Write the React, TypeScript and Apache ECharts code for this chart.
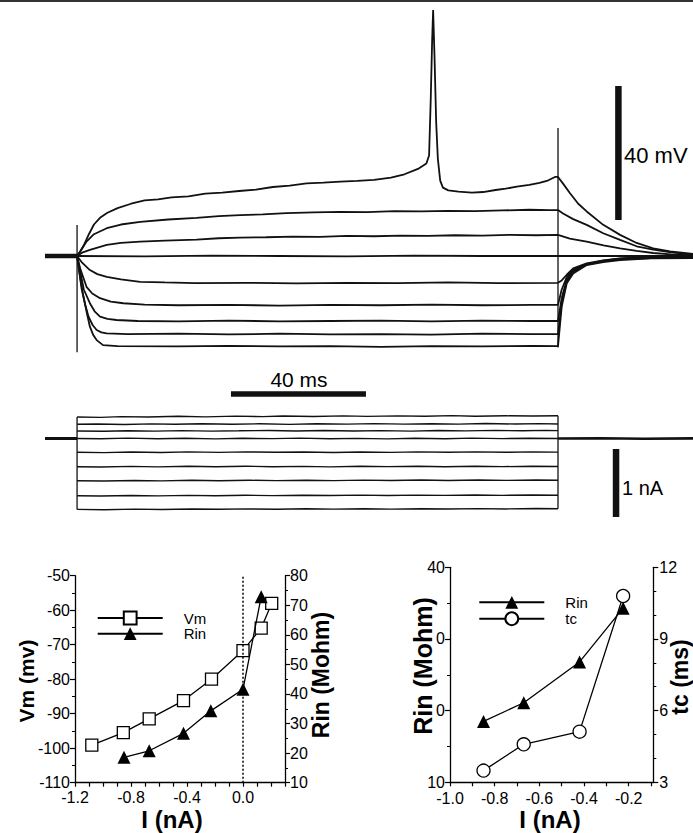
import React, { useEffect, useRef } from 'react';
import * as echarts from 'echarts';

const FONT = '"Liberation Sans", Arial, Helvetica, sans-serif';

// ---------- Top panel: membrane potential (t in ms from step onset, V in mV) ----------
const vTrace1 = [[0,-72],[1,-70.5],[2,-68.8],[3.5,-65.5],[5,-62.6],[7,-60.4],[9,-59.1],[12,-57.7],[16,-56.4],[20,-55.4],[24,-55.1],[28,-54.5],[33,-54.2],[38,-53.4],[43,-53.1],[48,-52.6],[53,-52.2],[58,-51.4],[63,-51.0],[68,-50.3],[73,-50.1],[78,-49.8],[83,-49.6],[88,-49.3],[93,-48.6],[97,-47.6],[101,-46.0],[103.5,-44.4],[104.3,-42],[104.8,-25],[105.2,-8],[105.5,1.4],[105.9,-12],[106.4,-32],[106.9,-43],[107.6,-49.5],[108.4,-51.6],[110,-52.4],[113,-52.8],[117,-53.1],[120.3,-52.9],[124,-52.3],[127,-51.9],[130.3,-51.3],[134,-50.8],[137,-50.2],[139.2,-49.6],[141.6,-48.4],[142.5,-48.4],[144,-50.4],[146,-53.2],[148.5,-56.4],[151,-58.7],[155.9,-62.7],[160.9,-65.7],[165.8,-68.1],[170.7,-69.7],[175.7,-70.6],[182.5,-71.4]];
const vTrace2 = [[0,-72],[1,-70.6],[2.8,-67.7],[5,-65.5],[8.8,-63.7],[13,-62.6],[18.7,-61.8],[27,-61.1],[35.4,-60.6],[42,-60.1],[48.3,-59.8],[55,-59.6],[62,-59.2],[70,-59.0],[78,-58.8],[86,-58.9],[94,-58.6],[102,-58.7],[110,-58.5],[118,-58.6],[126,-58.4],[134,-58.2],[140,-58.3],[142.5,-58.3],[144,-59.3],[147,-61],[151,-62.7],[155.9,-65.2],[160.9,-67.2],[165.8,-69.1],[170.7,-70.1],[176,-70.9],[182.5,-71.6]];
const vTrace3 = [[0,-72],[1.5,-71],[3.8,-70.2],[8.8,-68.7],[13,-68.1],[18.7,-67.7],[26,-67.4],[35.4,-67.1],[42,-66.7],[48.3,-66.5],[56,-66.4],[64,-66.2],[72,-66.3],[80,-66.0],[88,-66.1],[96,-65.9],[104,-66.0],[112,-65.8],[120,-65.9],[128,-65.7],[136,-65.8],[142.5,-65.7],[146,-66.8],[151,-67.7],[156,-68.8],[160.9,-69.7],[165.8,-70.5],[170.7,-71.1],[176,-71.5],[182.5,-71.8]];
const vTrace4 = [[0,-72],[20,-72.1],[40,-71.9],[60,-72],[80,-72.1],[100,-71.9],[120,-72],[142.5,-72],[160,-72],[182.5,-72]];
const vTrace5 = [[0,-72],[1.5,-74],[3.8,-76.2],[6,-77.4],[8.8,-78.2],[13,-79],[18.7,-79.7],[26,-79.9],[35,-80.1],[50,-80],[65,-80.2],[80,-80],[95,-80.1],[110,-79.9],[125,-80.1],[142.5,-80],[143.6,-79.3],[145.1,-77.6],[147,-75.7],[151,-74.2],[155.9,-73.3],[160.9,-72.7],[170,-72.3],[182.5,-72.2]];
const vTrace6 = [[0,-72],[1,-76],[2.8,-81.2],[4.5,-83.2],[6.8,-84.6],[10,-85.6],[13.7,-86.1],[20,-86.5],[30,-86.7],[45,-86.6],[60,-86.8],[75,-86.6],[90,-86.7],[105,-86.5],[120,-86.7],[135,-86.6],[142.5,-86.6],[143.6,-82],[145.1,-78.3],[147,-76.1],[151,-74.4],[155.9,-73.4],[160.9,-72.8],[170,-72.4],[182.5,-72.3]];
const vTrace7 = [[0,-72],[1,-77],[2,-82],[3.8,-86.1],[5.2,-88.5],[6.8,-90.1],[9,-90.8],[11.7,-91.1],[18,-91.4],[30,-91.5],[45,-91.3],[60,-91.5],[75,-91.4],[90,-91.3],[105,-91.5],[120,-91.3],[135,-91.4],[142.5,-91.4],[143.6,-84.5],[145.1,-79],[147,-76.5],[151,-74.5],[155.9,-73.5],[160.9,-72.9],[170,-72.5],[182.5,-72.4]];
const vTrace8 = [[0,-72],[1.4,-82.1],[2.4,-86.5],[3.4,-90.1],[4.6,-92.6],[5.8,-94.1],[7.2,-94.8],[8.8,-95.1],[15,-95.3],[30,-95.2],[45,-95.4],[60,-95.2],[75,-95.4],[90,-95.3],[105,-95.5],[120,-95.2],[135,-95.3],[142.5,-95.3],[143.6,-86],[145.1,-79.6],[147,-76.8],[151,-74.6],[155.9,-73.6],[160.9,-73],[170,-72.6],[182.5,-72.5]];
const vTrace9 = [[0,-72],[1,-79],[1.9,-84.1],[2.9,-89],[3.8,-93.1],[4.8,-95.6],[5.8,-97.1],[7.7,-98.6],[12,-98.9],[30,-99],[45,-98.8],[60,-99],[75,-98.9],[90,-99.1],[105,-98.9],[120,-99],[135,-98.8],[142.5,-98.9],[143.6,-87.1],[145.1,-80.1],[147,-77.2],[151,-74.7],[155.9,-73.8],[160.9,-73.2],[170,-72.7],[182.5,-72.6]];
const voltageTraces = [vTrace1, vTrace2, vTrace3, vTrace4, vTrace5, vTrace6, vTrace7, vTrace8, vTrace9];
const vPreBaseline = [[-9.5,-72],[0,-72]];
const vOnArtifact = [[0,-62.75],[0,-100.7]];
const vOffArtifact = [[142.5,-33.8],[142.5,-99.3]];
const mVScaleBar = [[160.4,-61.25],[160.4,-21.25]];

// ---------- Middle panel: injected current (nA) ----------
const iTrace1 = [[0,0.316],[7,0.311],[13,0.322],[21,0.316],[30,0.327],[38,0.318],[47,0.329],[55,0.322],[61,0.331],[70,0.324],[79,0.333],[86,0.325],[95,0.332],[103,0.327],[111,0.336],[118,0.328],[127,0.334],[135,0.33],[142.5,0.335]];
const iTrace2 = [[0,0.21],[6,0.214],[14,0.206],[22,0.215],[29,0.209],[37,0.217],[46,0.21],[54,0.216],[63,0.208],[71,0.218],[80,0.212],[88,0.219],[97,0.211],[105,0.217],[113,0.212],[121,0.22],[130,0.213],[137,0.219],[142.5,0.214]];
const iTrace3 = [[0,0.11],[8,0.106],[15,0.114],[23,0.108],[31,0.116],[40,0.109],[48,0.113],[57,0.118],[65,0.11],[73,0.117],[82,0.111],[90,0.116],[99,0.109],[107,0.118],[115,0.112],[124,0.119],[132,0.113],[139,0.12],[142.5,0.116]];
const iTrace4 = [[0,0.0],[7,-0.004],[15,0.005],[24,-0.003],[32,0.004],[41,-0.006],[49,0.003],[58,-0.002],[66,0.005],[75,-0.004],[83,0.002],[92,-0.005],[100,0.004],[109,-0.003],[117,0.005],[126,-0.002],[134,0.004],[142.5,0.0]];
const iTrace5 = [[0,-0.203],[8,-0.207],[16,-0.198],[25,-0.205],[33,-0.197],[42,-0.204],[50,-0.196],[59,-0.203],[67,-0.199],[76,-0.206],[84,-0.198],[93,-0.204],[101,-0.197],[110,-0.203],[118,-0.196],[127,-0.202],[135,-0.197],[142.5,-0.2]];
const iTrace6 = [[0,-0.415],[7,-0.419],[16,-0.41],[24,-0.417],[33,-0.409],[41,-0.416],[50,-0.408],[58,-0.415],[67,-0.41],[75,-0.417],[84,-0.409],[92,-0.414],[101,-0.408],[109,-0.415],[118,-0.409],[126,-0.414],[135,-0.408],[142.5,-0.412]];
const iTrace7 = [[0,-0.622],[8,-0.626],[17,-0.617],[25,-0.623],[34,-0.615],[42,-0.621],[51,-0.614],[59,-0.62],[68,-0.613],[76,-0.619],[85,-0.612],[93,-0.618],[102,-0.611],[110,-0.617],[119,-0.611],[127,-0.616],[136,-0.61],[142.5,-0.614]];
const iTrace8 = [[0,-0.842],[7,-0.846],[16,-0.838],[24,-0.844],[33,-0.836],[41,-0.842],[50,-0.835],[58,-0.84],[67,-0.834],[75,-0.839],[84,-0.833],[92,-0.838],[101,-0.832],[109,-0.837],[118,-0.831],[126,-0.836],[135,-0.83],[142.5,-0.834]];
const iTrace9 = [[0,-1.043],[8,-1.047],[17,-1.038],[25,-1.044],[34,-1.036],[42,-1.041],[51,-1.035],[59,-1.04],[68,-1.034],[76,-1.039],[85,-1.033],[93,-1.038],[102,-1.032],[110,-1.037],[119,-1.031],[127,-1.036],[136,-1.03],[142.5,-1.034]];
const currentTraces = [iTrace1, iTrace2, iTrace3, iTrace4, iTrace5, iTrace6, iTrace7, iTrace8, iTrace9];
const iPreBaseline = [[-9.5,0],[0,0]];
const iPostBaseline = [[142.5,0],[155,0.004],[168,-0.003],[182.5,0.002]];
const iOnEdge = [[0,-1.043],[0,0.316]];
const iOffEdge = [[142.5,-1.034],[142.5,0.335]];
const msScaleBar = [[45.6,0.654],[85.6,0.654]];
const nAScaleBar = [[159.7,-0.154],[159.7,-1.154]];

// ---------- Bottom left: I-V and input resistance ----------
const ivVmCurrent = [-1.08, -0.855, -0.67, -0.425, -0.225, 0, 0.13, 0.205];
const ivVm = [-99.1, -95.5, -91.5, -86.2, -80.0, -71.7, -65.2, -58.0];
const ivRinCurrent = [-0.85, -0.67, -0.425, -0.23, 0, 0.13];
const ivRin = [18.6, 20.8, 26.7, 34.3, 41.6, 72.9];
const ivXTickValues = [-1.2, -1.1, -1.0, -0.9, -0.8, -0.7, -0.6, -0.5, -0.4, -0.3, -0.2, -0.1, 0, 0.1, 0.2, 0.3];
const ivXLabelValues = [-1.2, -0.8, -0.4, 0];

// ---------- Bottom right: Rin and time constant ----------
const rcCurrent = [-0.85, -0.67, -0.42, -0.225];
const rcRin = [18.5, 21.1, 26.8, 34.3];
const rcTc = [3.49, 4.59, 5.12, 10.8];
const rcXTickValues = [-1.0, -0.9, -0.8, -0.7, -0.6, -0.5, -0.4, -0.3, -0.2, -0.1];
const rcXLabelValues = [-1.0, -0.8, -0.6, -0.4, -0.2];
const rcRinTickText = ['10', '0', '0', '40'];

const zip = (xs: number[], ys: number[]) => xs.map((x, i) => [x, ys[i]]);

const INK = '#111';

const traceSeries = (data: number[][], xi: number, yi: number, width = 1.5) => ({
  type: 'line',
  xAxisIndex: xi,
  yAxisIndex: yi,
  data,
  symbol: 'none',
  showSymbol: false,
  silent: true,
  lineStyle: { color: INK, width },
  z: 2,
});

const tickLabelStyle = { color: '#000', fontSize: 16, fontFamily: FONT };
const axisLineStyle = { show: true, onZero: false, lineStyle: { color: '#000', width: 1.3 } };

function buildOption() {
  const series: any[] = [];
  voltageTraces.forEach((d) => series.push(traceSeries(d, 0, 0, 1.8)));
  series.push(traceSeries(vPreBaseline, 0, 0, 4.5));
  series.push(traceSeries(vOnArtifact, 0, 0, 1.3));
  series.push(traceSeries(vOffArtifact, 0, 0, 1.3));
  series.push({ ...traceSeries(mVScaleBar, 0, 0, 6.5), lineStyle: { color: '#111', width: 6.5, cap: 'butt' } });

  currentTraces.forEach((d) => series.push(traceSeries(d, 1, 1, 1.4)));
  series.push(traceSeries(iPreBaseline, 1, 1, 3));
  series.push(traceSeries(iPostBaseline, 1, 1, 2.6));
  series.push(traceSeries(iOnEdge, 1, 1, 1.3));
  series.push(traceSeries(iOffEdge, 1, 1, 1.3));
  series.push({ ...traceSeries(msScaleBar, 1, 1, 5.5), lineStyle: { color: '#111', width: 5.5, cap: 'butt' } });
  series.push({ ...traceSeries(nAScaleBar, 1, 1, 6.5), lineStyle: { color: '#111', width: 6.5, cap: 'butt' } });

  series.push({
    name: 'Vm', type: 'line', xAxisIndex: 2, yAxisIndex: 2,
    data: zip(ivVmCurrent, ivVm),
    symbol: 'rect', symbolSize: 12,
    lineStyle: { color: '#000', width: 1.3 },
    itemStyle: { color: '#fff', borderColor: '#000', borderWidth: 1.3 },
    z: 3,
    markLine: {
      silent: true, symbol: 'none', label: { show: false },
      lineStyle: { color: '#000', width: 1.5, type: [2, 2] },
      data: [{ xAxis: 0 }],
    },
  });
  series.push({
    name: 'Rin', type: 'line', xAxisIndex: 2, yAxisIndex: 3,
    data: zip(ivRinCurrent, ivRin),
    symbol: 'triangle', symbolSize: 13,
    lineStyle: { color: '#000', width: 1.3 },
    itemStyle: { color: '#000', borderColor: '#000', borderWidth: 0 },
    z: 4,
  });
  series.push({
    name: 'Rin', type: 'line', xAxisIndex: 3, yAxisIndex: 4,
    data: zip(rcCurrent, rcRin),
    symbol: 'triangle', symbolSize: 13,
    lineStyle: { color: '#000', width: 1.3 },
    itemStyle: { color: '#000', borderColor: '#000', borderWidth: 0 },
    z: 4,
  });
  series.push({
    name: 'tc', type: 'line', xAxisIndex: 3, yAxisIndex: 5,
    data: zip(rcCurrent, rcTc),
    symbol: 'circle', symbolSize: 13,
    lineStyle: { color: '#000', width: 1.3 },
    itemStyle: { color: '#fff', borderColor: '#000', borderWidth: 1.3 },
    z: 3,
  });

  const rotTitle = (text: string, x: number, y: number, size: number) => ({
    type: 'text', x, y, rotation: Math.PI / 2, silent: true,
    style: { text, font: `bold ${size}px ${FONT}`, fill: '#000', align: 'center', verticalAlign: 'middle' },
  });
  const plainText = (text: string, x: number, y: number, size: number, align = 'left', bold = false) => ({
    type: 'text', x, y, silent: true,
    style: { text, font: `${bold ? 'bold ' : ''}${size}px ${FONT}`, fill: '#000', align, verticalAlign: 'middle' },
  });

  const legendBase = {
    orient: 'vertical',
    padding: 0,
    itemWidth: 65,
    itemHeight: 16,
    selectedMode: false,
    textStyle: { color: '#000', fontSize: 15, fontFamily: FONT, padding: [0, 0, 0, 16] },
  };

  return {
    animation: false,
    backgroundColor: '#fff',
    grid: [
      { left: 45, top: 1.4, width: 648, height: 355.1, outerBoundsMode: 'none', containLabel: false },
      { left: 45, top: 370.5, width: 648, height: 153, outerBoundsMode: 'none', containLabel: false },
      { left: 75, top: 575.7, width: 210, height: 207, outerBoundsMode: 'none', containLabel: false },
      { left: 450, top: 567.3, width: 203.3, height: 215, outerBoundsMode: 'none', containLabel: false },
    ],
    xAxis: [
      { type: 'value', gridIndex: 0, min: -9.5, max: 182.5, show: false },
      { type: 'value', gridIndex: 1, min: -9.5, max: 182.5, show: false },
      {
        type: 'value', gridIndex: 2, min: -1.2, max: 0.3, interval: 0.4,
        axisLine: axisLineStyle,
        axisTick: { show: true, length: 4, customValues: ivXTickValues, lineStyle: { color: '#000', width: 1.2 } },
        axisLabel: { ...tickLabelStyle, margin: 7, customValues: ivXLabelValues, formatter: (v: number) => v.toFixed(1) },
        splitLine: { show: false },
      },
      {
        type: 'value', gridIndex: 3, min: -1.0, max: -0.09, interval: 0.2,
        axisLine: axisLineStyle,
        axisTick: { show: true, length: 4, customValues: rcXTickValues, lineStyle: { color: '#000', width: 1.2 } },
        axisLabel: { ...tickLabelStyle, margin: 8, customValues: rcXLabelValues, formatter: (v: number) => v.toFixed(1) },
        splitLine: { show: false },
      },
    ],
    yAxis: [
      { type: 'value', gridIndex: 0, min: -102, max: 4, show: false },
      { type: 'value', gridIndex: 1, min: -1.25, max: 1.0, show: false },
      {
        type: 'value', gridIndex: 2, position: 'left', min: -110, max: -50, interval: 10,
        axisLine: axisLineStyle,
        axisTick: { show: true, length: 5, lineStyle: { color: '#000', width: 1.2 } },
        minorTick: { show: true, splitNumber: 2, length: 3, lineStyle: { color: '#000', width: 1 } },
        axisLabel: { ...tickLabelStyle, margin: 5 },
        splitLine: { show: false }, minorSplitLine: { show: false },
      },
      {
        type: 'value', gridIndex: 2, position: 'right', min: 10, max: 80, interval: 10,
        axisLine: axisLineStyle,
        axisTick: { show: true, length: 5, lineStyle: { color: '#000', width: 1.2 } },
        minorTick: { show: true, splitNumber: 2, length: 3, lineStyle: { color: '#000', width: 1 } },
        axisLabel: { ...tickLabelStyle, margin: 5 },
        splitLine: { show: false }, minorSplitLine: { show: false },
      },
      {
        type: 'value', gridIndex: 3, position: 'left', min: 10, max: 40, interval: 10,
        axisLine: axisLineStyle,
        axisTick: { show: true, length: 5, lineStyle: { color: '#000', width: 1.2 } },
        minorTick: { show: true, splitNumber: 2, length: 3, lineStyle: { color: '#000', width: 1 } },
        axisLabel: { ...tickLabelStyle, margin: 5, formatter: (v: number) => rcRinTickText[Math.round((v - 10) / 10)] ?? String(v) },
        splitLine: { show: false }, minorSplitLine: { show: false },
      },
      {
        type: 'value', gridIndex: 3, position: 'right', min: 3, max: 12, interval: 3,
        axisLine: axisLineStyle,
        axisTick: { show: true, length: 5, lineStyle: { color: '#000', width: 1.2 } },
        minorTick: { show: true, splitNumber: 3, length: 3, lineStyle: { color: '#000', width: 1 } },
        axisLabel: { ...tickLabelStyle, margin: 6 },
        splitLine: { show: false }, minorSplitLine: { show: false },
      },
    ],
    legend: [
      { ...legendBase, data: ['Vm', 'Rin'], left: 96.7, top: 610.5, itemGap: 0.7 },
      { ...legendBase, data: ['Rin', 'tc'], left: 478.3, top: 594.8, itemGap: 1.4 },
    ],
    graphic: [
      { type: 'line', silent: true, shape: { x1: 0, y1: 1, x2: 693, y2: 1 }, style: { stroke: '#333', lineWidth: 2 } },
      plainText('40 mV', 624, 155, 22),
      plainText('40 ms', 299, 379, 21, 'center'),
      plainText('1 nA', 622, 488, 20),
      rotTitle('Vm (mv)', 26, 681, 21),
      rotTitle('Rin (Mohm)', 321, 675, 23),
      plainText('I (nA)', 172, 819, 24, 'center', true),
      rotTitle('Rin (Mohm)', 423, 666, 25),
      rotTitle('tc (ms)', 680, 677, 23),
      plainText('I (nA)', 550, 819, 24, 'center', true),
    ],
    series,
  };
}

export default function App() {
  const ref = useRef<HTMLDivElement>(null);
  useEffect(() => {
    if (!ref.current) return;
    const chart = echarts.init(ref.current, undefined, { renderer: 'svg' });
    chart.setOption(buildOption() as any);
    return () => chart.dispose();
  }, []);
  return (
    <div
      ref={ref}
      style={{ position: 'fixed', left: 0, top: 0, width: 693, height: 833, background: '#fff' }}
    />
  );
}
